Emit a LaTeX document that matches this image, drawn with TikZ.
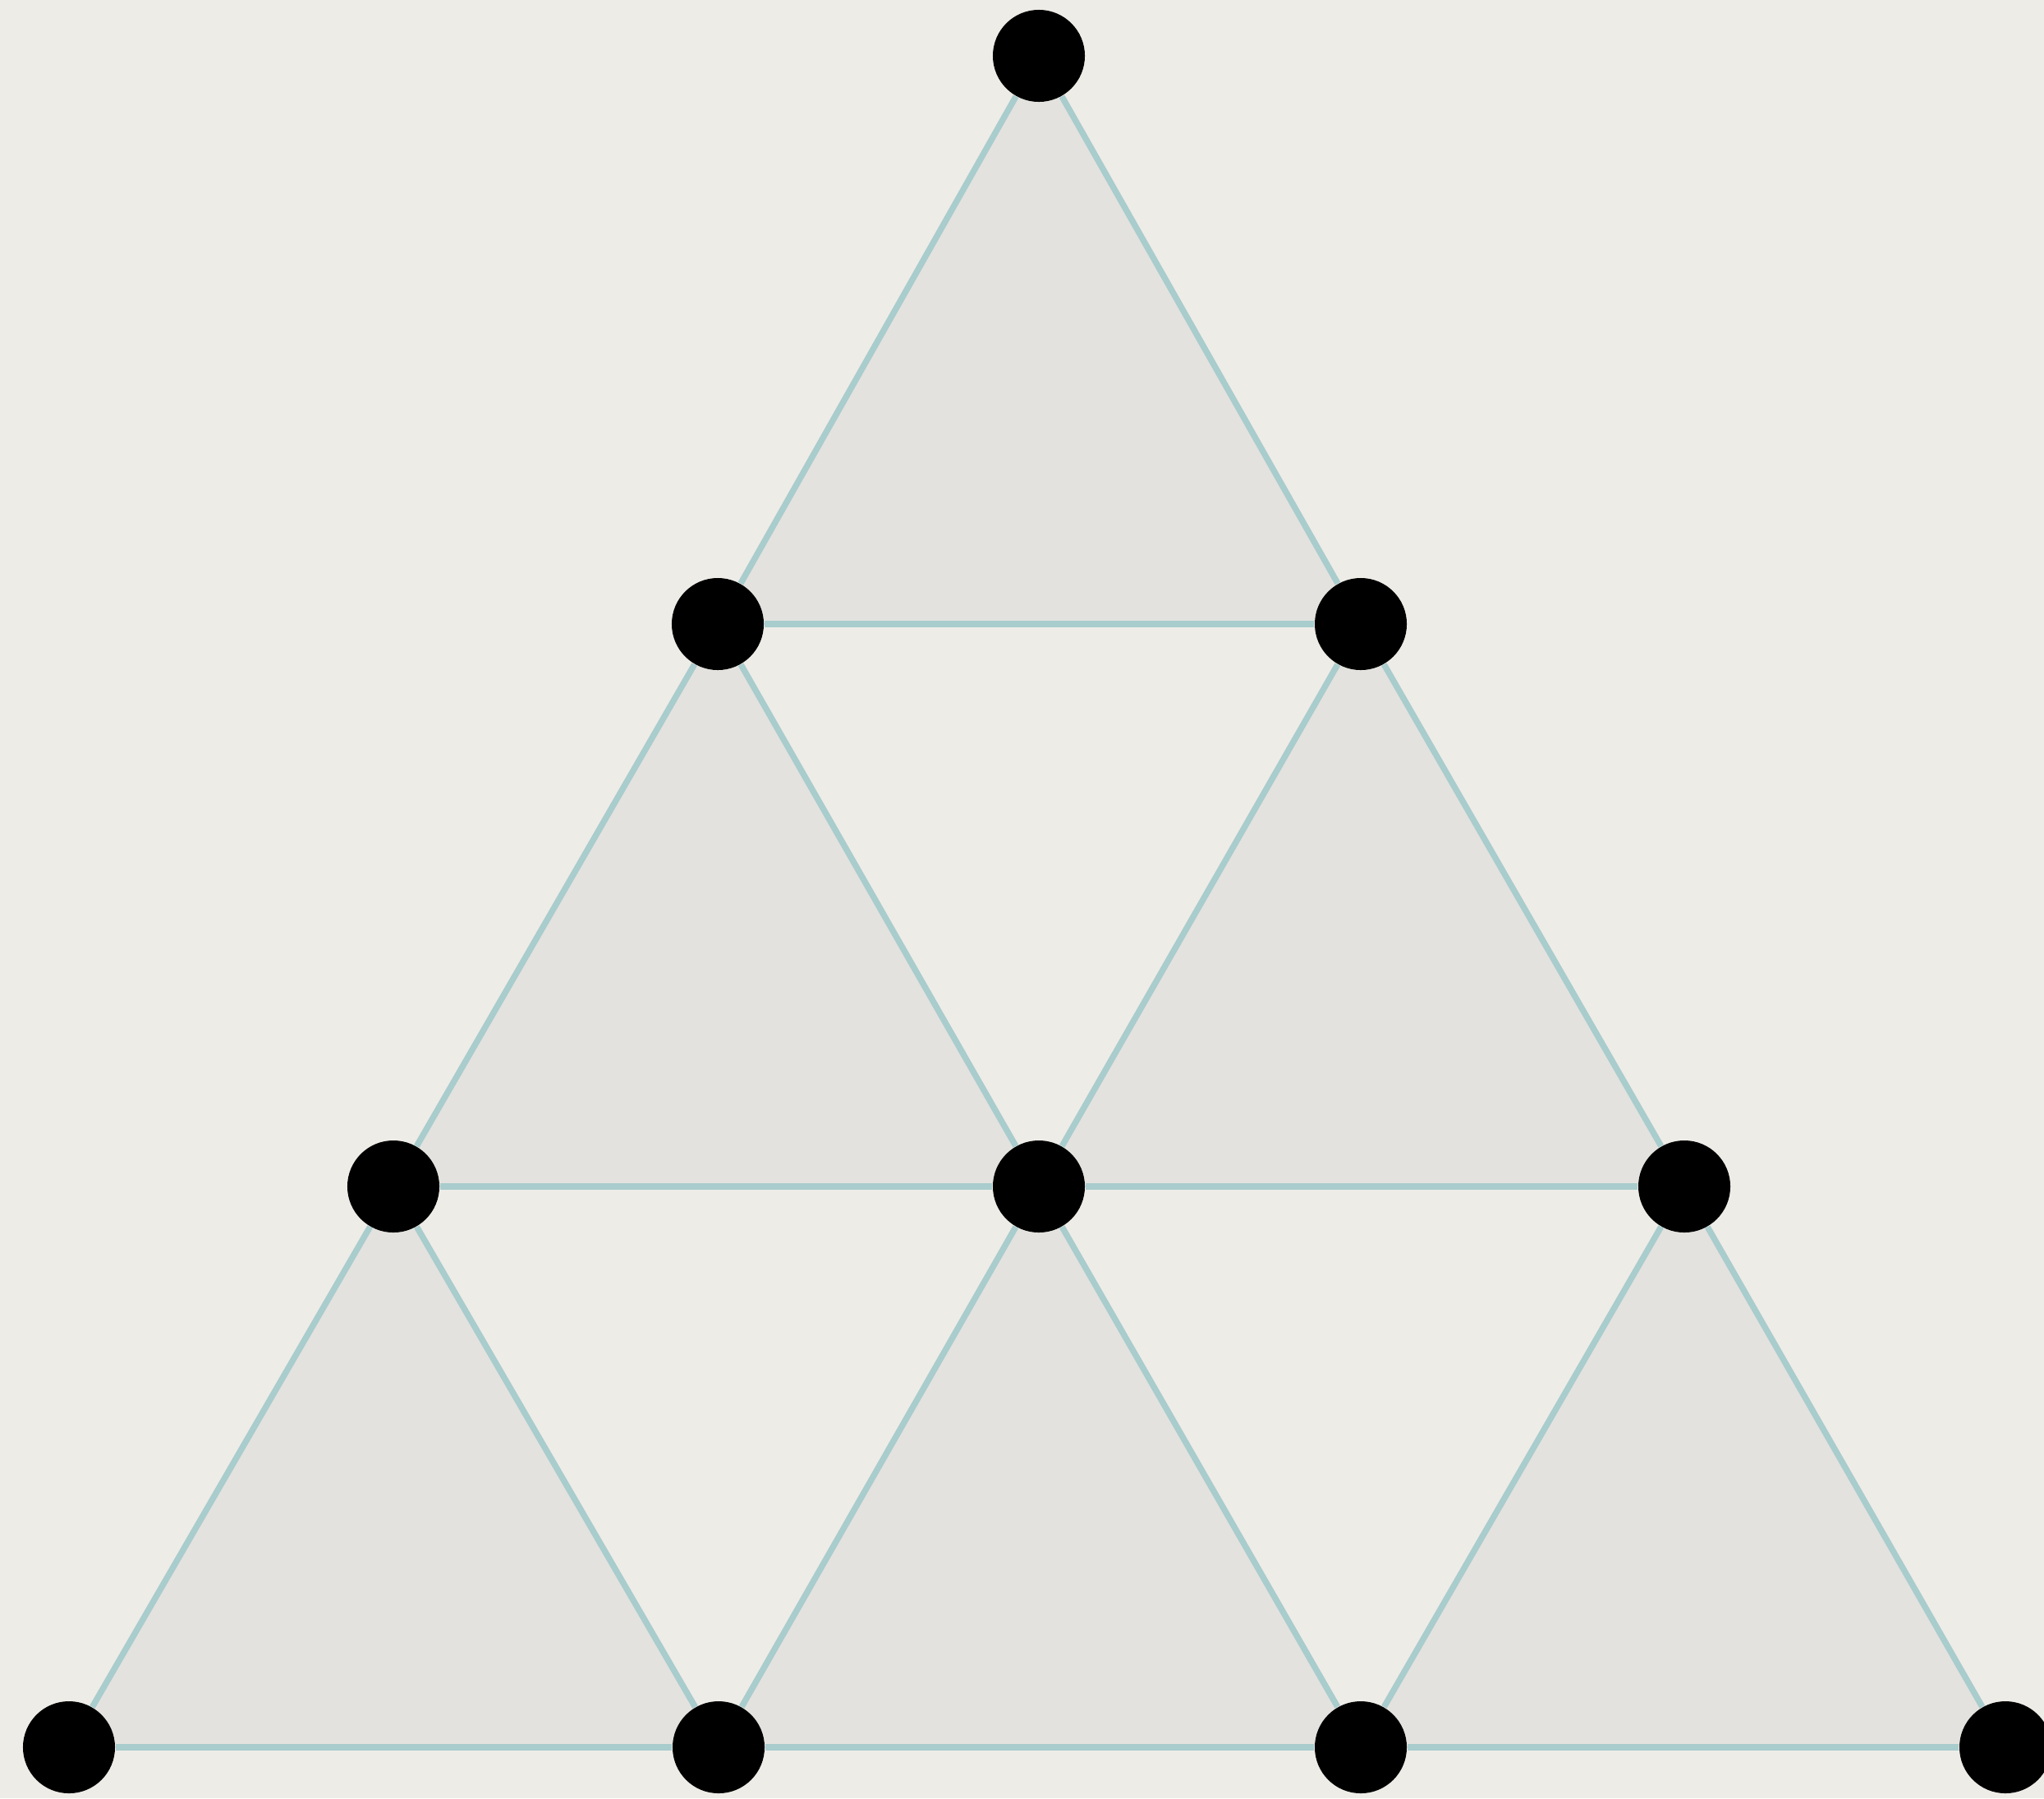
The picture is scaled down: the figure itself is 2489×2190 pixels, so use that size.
\documentclass[tikz,border=0pt]{standalone}
\begin{document}
\begin{tikzpicture}[x=0.01cm,y=-0.01cm,
  dot/.style={circle,fill=black,inner sep=0pt,minimum size=1.12cm},
  edge/.style={draw=edgeblue,line width=2.1pt},
  shade/.style={fill=triangrey}]
\definecolor{bg}{HTML}{EEECE7}
\definecolor{triangrey}{HTML}{E3E2DE}
\definecolor{edgeblue}{HTML}{A9CCCD}
\fill[bg] (0,0) rectangle (2489,2190);
\useasboundingbox (0,0) rectangle (2489,2190);
% lattice
\coordinate (pA) at (1265,68);
\coordinate (pB1) at (874,760);
\coordinate (pB2) at (1657,760);
\coordinate (pC1) at (479,1445);
\coordinate (pC2) at (1265,1445);
\coordinate (pC3) at (2051,1445);
\coordinate (pD1) at (84,2128);
\coordinate (pD2) at (875,2128);
\coordinate (pD3) at (1657,2128);
\coordinate (pD4) at (2442,2128);
% shaded up triangles
\fill[shade] (pA) -- (pB1) -- (pB2) -- cycle;
\fill[shade] (pB1) -- (pC1) -- (pC2) -- cycle;
\fill[shade] (pB2) -- (pC2) -- (pC3) -- cycle;
\fill[shade] (pC1) -- (pD1) -- (pD2) -- cycle;
\fill[shade] (pC2) -- (pD2) -- (pD3) -- cycle;
\fill[shade] (pC3) -- (pD3) -- (pD4) -- cycle;
% nodes
\node[dot] (A) at (pA) {};
\node[dot] (B1) at (pB1) {};
\node[dot] (B2) at (pB2) {};
\node[dot] (C1) at (pC1) {};
\node[dot] (C2) at (pC2) {};
\node[dot] (C3) at (pC3) {};
\node[dot] (D1) at (pD1) {};
\node[dot] (D2) at (pD2) {};
\node[dot] (D3) at (pD3) {};
\node[dot] (D4) at (pD4) {};
% edges
\draw[edge] (A) -- (B1);
\draw[edge] (A) -- (B2);
\draw[edge] (B1) -- (B2);
\draw[edge] (B1) -- (C1);
\draw[edge] (B1) -- (C2);
\draw[edge] (B2) -- (C2);
\draw[edge] (B2) -- (C3);
\draw[edge] (C1) -- (C2);
\draw[edge] (C2) -- (C3);
\draw[edge] (C1) -- (D1);
\draw[edge] (C1) -- (D2);
\draw[edge] (C2) -- (D2);
\draw[edge] (C2) -- (D3);
\draw[edge] (C3) -- (D3);
\draw[edge] (C3) -- (D4);
\draw[edge] (D1) -- (D2);
\draw[edge] (D2) -- (D3);
\draw[edge] (D3) -- (D4);
\end{tikzpicture}
\end{document}
